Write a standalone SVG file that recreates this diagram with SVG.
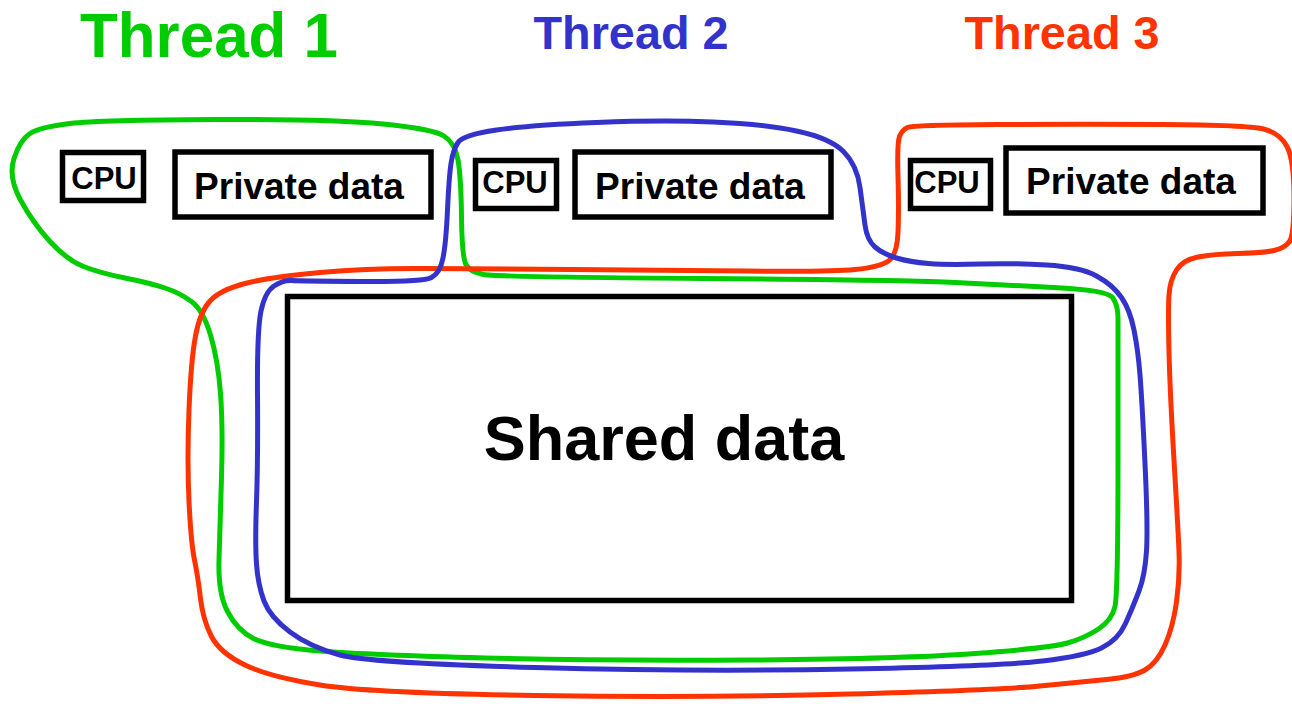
<svg xmlns="http://www.w3.org/2000/svg" width="1292" height="704" viewBox="0 0 1292 704">
<style>
  .t { font-family: "Liberation Sans", Arial, sans-serif; font-weight: bold; text-anchor: middle; }
  .box { fill: none; stroke: #000; stroke-width: 5.5; }
  .loop { fill: none; stroke-width: 5; stroke-linejoin: round; }
  .lbl { fill: #000; }
</style>
<rect width="1292" height="704" fill="#fff"/>
<g id="titles">
  <text class="t" x="209" y="57" font-size="63" fill="#00CC00" textLength="258" lengthAdjust="spacingAndGlyphs">Thread 1</text>
  <text class="t" x="631" y="49" font-size="47" fill="#3333CC" textLength="195" lengthAdjust="spacingAndGlyphs">Thread 2</text>
  <text class="t" x="1062" y="49" font-size="47" fill="#FF3300" textLength="195" lengthAdjust="spacingAndGlyphs">Thread 3</text>
</g>
<g id="connectors">
  <path id="loop-thread1" class="loop" stroke="#00CC00" d="M 70,123.5 Q 100,120 216.5,119.5 Q 333,119 383,124 Q 433,129 444,136 Q 455,143 458,160 Q 461,177 461.5,217 Q 462,257 466,264.5 Q 470,272 483.5,274.5 Q 497,277 703.5,278.5 Q 910,280 955,282.5 Q 1000,285 1053.5,287.5 Q 1107,290 1112.5,297.5 Q 1118,305 1118,317.5 Q 1118,330 1118,461.5 Q 1118,593 1115,606.5 Q 1112,620 1098.5,629 Q 1085,638 1067.5,643 Q 1050,648 975,653.5 Q 900,659 750,660 Q 600,661 485,658 Q 370,655 320,651 Q 270,647 253.5,638.5 Q 237,630 227.5,611.5 Q 218,593 219,560 Q 220,527 221.5,477 Q 223,427 220.5,393.5 Q 218,360 210.5,335 Q 203,310 191.5,301.5 Q 180,293 165,288 Q 150,283 125,278 Q 100,273 83.5,266.5 Q 67,260 50,241.5 Q 33,223 20.5,200 Q 8,177 14,158.5 Q 20,140 30,133.5 Q 40,127 70,123.5 Z"/>
  <path id="loop-thread3" class="loop" stroke="#FF3300" d="M 996.5,124.5 Q 1080,124 1163.5,124.5 Q 1247,125 1263.5,129 Q 1280,133 1287,146.5 Q 1294,160 1294,197.5 Q 1294,235 1289.5,241.5 Q 1285,248 1274,250.5 Q 1263,253 1238,253.5 Q 1213,254 1198,257 Q 1183,260 1176.5,270 Q 1170,280 1169,295 Q 1168,310 1169,351.5 Q 1170,393 1174,460 Q 1178,527 1179,552 Q 1180,577 1176.5,602 Q 1173,627 1165,645 Q 1157,663 1145,670 Q 1133,677 1106.5,679.5 Q 1080,682 1040,686 Q 1000,690 850,694 Q 700,698 535,695.5 Q 370,693 320,685 Q 270,677 245,665 Q 220,653 211.5,636.5 Q 203,620 200.5,598.5 Q 198,577 194.5,560 Q 191,543 189,501.5 Q 187,460 189,410 Q 191,360 195.5,336 Q 200,312 210,301 Q 220,290 245,283.5 Q 270,277 320,272.5 Q 370,268 425,268.5 Q 480,269 571.5,269.5 Q 663,270 746.5,271 Q 830,272 855,269.5 Q 880,267 888.5,261 Q 897,255 898,232.5 Q 899,210 898,176.5 Q 897,143 899.5,136.5 Q 902,130 907.5,127.5 Q 913,125 996.5,124.5 Z"/>
  <path id="loop-thread2" class="loop" stroke="#3333CC" d="M 496.5,130 Q 530,125 596.5,122.5 Q 663,120 713,122 Q 763,124 796.5,131 Q 830,138 843.5,151.5 Q 857,165 860,187.5 Q 863,210 865,225 Q 867,240 875,247 Q 883,254 896.5,258 Q 910,262 928.5,263.5 Q 947,265 980,264 Q 1013,263 1046.5,265 Q 1080,267 1096.5,276 Q 1113,285 1121.5,297.5 Q 1130,310 1134,330 Q 1138,350 1140,375 Q 1142,400 1145,463.5 Q 1148,527 1146.5,551 Q 1145,575 1139,591 Q 1133,607 1125.5,623.5 Q 1118,640 1101.5,648 Q 1085,656 1042.5,661 Q 1000,666 850,669 Q 700,672 535,667.5 Q 370,663 340,655 Q 310,647 290,632 Q 270,617 264,601 Q 258,585 256.5,564 Q 255,543 256.5,501.5 Q 258,460 257.5,395 Q 257,330 261,311 Q 265,292 274,286 Q 283,280 291.5,280.5 Q 300,281 361.5,281.5 Q 423,282 431.5,277.5 Q 440,273 443,258 Q 446,243 447.5,210 Q 449,177 451,163.5 Q 453,150 458,142.5 Q 463,135 496.5,130 Z"/>
</g>
<g id="cpu1">
  <rect class="box" x="62.5" y="152.5" width="81" height="48" stroke-width="5"/>
  <text class="t lbl" x="104" y="189" font-size="31">CPU</text>
</g>
<g id="private1">
  <rect class="box" x="175" y="152" width="256" height="65" stroke-width="6"/>
  <text class="t lbl" x="299" y="199" font-size="37">Private data</text>
</g>
<g id="cpu2">
  <rect class="box" x="475.5" y="160.5" width="81" height="48" stroke-width="5"/>
  <text class="t lbl" x="515" y="193" font-size="31">CPU</text>
</g>
<g id="private2">
  <rect class="box" x="575" y="152" width="256" height="65" stroke-width="6"/>
  <text class="t lbl" x="700" y="199" font-size="37">Private data</text>
</g>
<g id="cpu3">
  <rect class="box" x="910.5" y="160.5" width="80" height="48" stroke-width="5"/>
  <text class="t lbl" x="947" y="193" font-size="31">CPU</text>
</g>
<g id="private3">
  <rect class="box" x="1006" y="148" width="257" height="65" stroke-width="6"/>
  <text class="t lbl" x="1131" y="194" font-size="37">Private data</text>
</g>
<g id="shared">
  <rect class="box" x="287.5" y="296.5" width="784" height="304"/>
  <text class="t lbl" x="664" y="460" font-size="63">Shared data</text>
</g>
</svg>
